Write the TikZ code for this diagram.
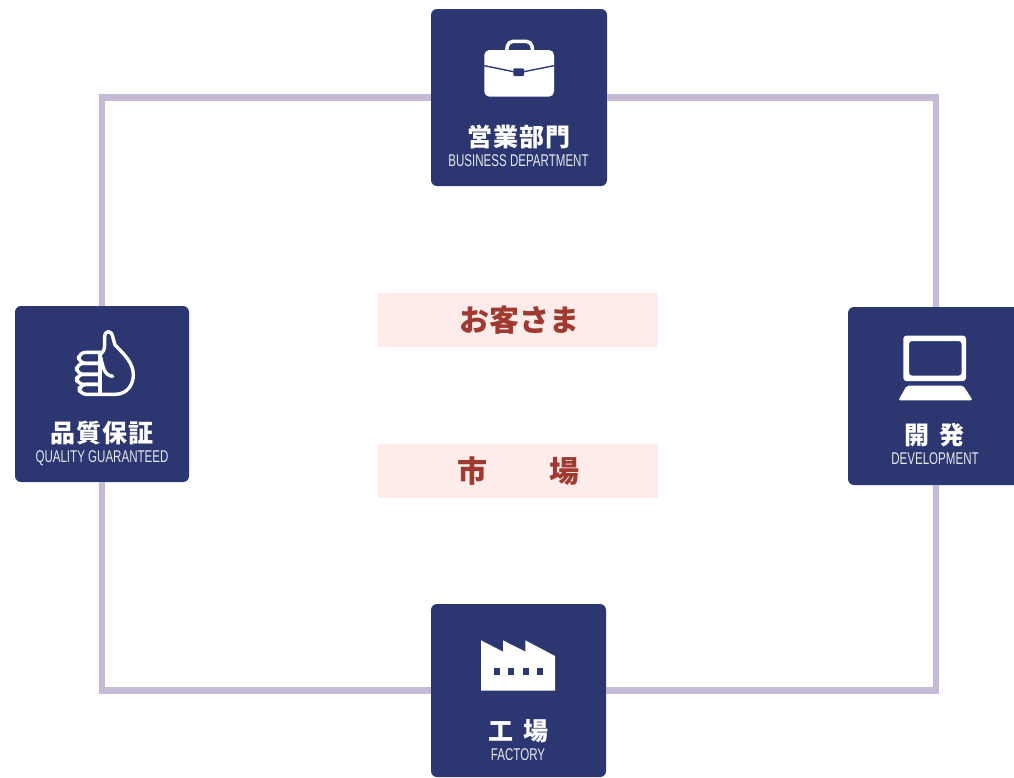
\documentclass[tikz,border=0pt]{standalone}
\usepackage{fontspec}
\setmainfont{Liberation Sans}
\newfontfamily\cjk{Noto Sans CJK JP}
\newfontfamily\narrowlat[FakeStretch=0.68]{Liberation Sans}
\definecolor{navy}{HTML}{2C3670}
\definecolor{framec}{HTML}{C4BAD6}
\definecolor{pinkbg}{HTML}{FDECEA}
\definecolor{redtxt}{HTML}{A03A30}
\tikzset{
  dept/.style={fill=navy,rounded corners=6pt,inner sep=0pt,minimum width=176pt,minimum height=177pt},
  frameline/.style={draw=framec,line width=6.5pt},
  band/.style={fill=pinkbg,inner sep=0pt,minimum width=280pt,minimum height=54pt},
  jlabel/.style={text=white,inner sep=0pt,font=\cjk\bfseries\fontsize{25}{25}\selectfont},
  elabel/.style={text=white!88!navy,inner sep=0pt,font=\narrowlat\fontsize{17}{17}\selectfont},
  rlabel/.style={text=redtxt,inner sep=0pt,font=\cjk\bfseries\fontsize{30}{30}\selectfont},
  iconl/.style={draw=white,line width=3.4pt,line join=round,line cap=round},
}
\begin{document}
\begin{tikzpicture}[x=1pt,y=-1pt]
\useasboundingbox (0,0) rectangle (1014,777);
\clip (0,0) rectangle (1014,777);
\fill[white] (0,0) rectangle (1014,777);

\node[dept] (top) at (519,97.5) {};
\node[dept,minimum width=174pt,minimum height=176pt] (left) at (102,394) {};
\node[dept,minimum height=178pt] (right) at (936,396) {};
\node[dept,minimum width=175pt,minimum height=173pt] (bottom) at (518.5,690.5) {};

\draw[frameline] (top) -| (right);
\draw[frameline] (right) |- (bottom);
\draw[frameline] (bottom) -| (left);
\draw[frameline] (left) |- (top);

\node[band] (customer) at (518,320) {};
\node[band] (market) at (518,471) {};
\node[rlabel] (customertext) at (519,320) {お客さま};
\node[rlabel] (markettext) at (518.5,471) {市\hspace{62pt}場};

% Department labels
\node[jlabel] (topj) at (519,136.5) {\addfontfeatures{LetterSpace=5}営業部門};
\node[elabel] (tope) at (518.5,161) {BUSINESS DEPARTMENT};
\node[jlabel] (leftj) at (102,433.5) {\addfontfeatures{LetterSpace=5}品質保証};
\node[elabel] (lefte) at (102,458) {QUALITY GUARANTEED};
\node[jlabel] (rightj) at (934,435.5) {開\hspace{10pt}発};
\node[elabel] (righte) at (935,459) {DEVELOPMENT};
\node[jlabel] (bottomj) at (518,731.5) {工\hspace{10pt}場};
\node[elabel] (bottome) at (518,755) {FACTORY};

% Briefcase icon
\begin{scope}[shift={(420,0)},x=0.33333pt,y=-0.33333pt]
  \draw[white,line width=3.5pt,rounded corners=5pt] (260,152) -- (264,124) -- (334,124) -- (338,152);
  \fill[white,rounded corners=5pt] (193,150) rectangle (402,290);
  \draw[navy,line width=1.4pt] (193,197) -- (280,215);
  \draw[navy,line width=1.4pt] (312,215) -- (402,197);
  \fill[navy,rounded corners=1pt] (280,205) rectangle (312,228);
\end{scope}

% Thumb icon
\begin{scope}[shift={(0,295)},x=0.33333pt,y=-0.33333pt]
  \draw[iconl] (302,298) -- (345,298) .. controls (385,298) and (400,265) .. (400,240)
     .. controls (400,205) and (375,180) .. (345,150) -- (338,125)
     .. controls (335,105) and (315,105) .. (314,125) -- (314,150)
     .. controls (314,165) and (308,172) .. (300,180)
     .. controls (310,215) and (310,240) .. (338,244);
  \draw[iconl,rounded corners=7pt] (300,172) -- (236,172) -- (236,205) -- (300,205);
  \draw[iconl,rounded corners=7pt] (300,205) -- (230,205) -- (230,238) -- (300,238);
  \draw[iconl,rounded corners=7pt] (300,238) -- (230,238) -- (230,268) -- (300,268);
  \draw[iconl,rounded corners=7pt] (300,268) -- (238,268) -- (238,298) -- (300,298);
  \draw[iconl] (300,172) -- (300,298);
\end{scope}

% Laptop icon
\begin{scope}[shift={(835,295)},x=0.33333pt,y=-0.33333pt]
  \fill[white,rounded corners=3pt,even odd rule] (205,122) rectangle (393,258) (222,138) rectangle (380,242);
  \fill[white,rounded corners=2pt] (215,272) -- (385,272) -- (413,316) -- (190,316) -- cycle;
\end{scope}

% Factory icon
\begin{scope}[shift={(420,595)},x=0.33333pt,y=-0.33333pt]
  \fill[white] (183,136) -- (249,170) -- (249,136) -- (316,170) -- (316,136) -- (405,183) -- (405,287) -- (183,287) -- cycle;
  \foreach \xa in {222,265,308,351} \fill[navy] (\xa,220) rectangle ++(18,20);
\end{scope}
\end{tikzpicture}
\end{document}
